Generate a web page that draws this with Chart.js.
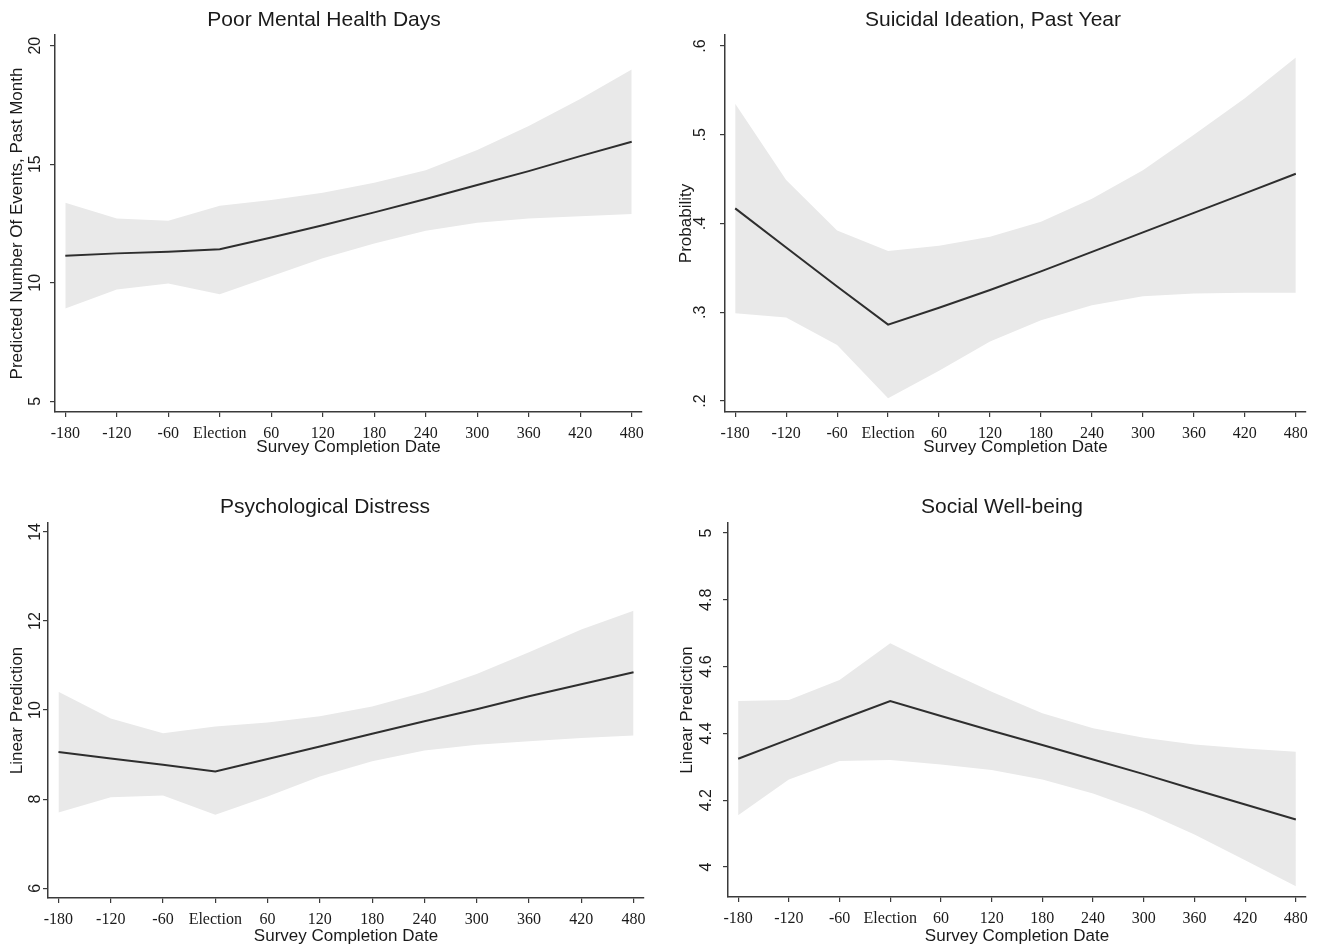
<!DOCTYPE html>
<html>
<head>
<meta charset="utf-8">
<script src="https://cdn.jsdelivr.net/npm/chart.js@4"></script>
<style>
  body { margin: 0; background: #fff; }
  .panel { position: absolute; }
</style>
</head>
<body>
<div class="panel" style="left:0;top:0;width:660px;height:470px"><canvas id="c1"></canvas></div>
<div class="panel" style="left:660px;top:0;width:662px;height:470px"><canvas id="c2"></canvas></div>
<div class="panel" style="left:0;top:480px;width:660px;height:465px"><canvas id="c3"></canvas></div>
<div class="panel" style="left:660px;top:480px;width:662px;height:465px"><canvas id="c4"></canvas></div>
<script>
// days since election, one point per tick
var days = [-180, -120, -60, 0, 60, 120, 180, 240, 300, 360, 420, 480];
var dayLabels = ['-180', '-120', '-60', 'Election', '60', '120', '180', '240', '300', '360', '420', '480'];

// Poor Mental Health Days
var mhEst = [11.14, 11.24, 11.31, 11.41, 11.91, 12.43, 12.97, 13.53, 14.12, 14.71, 15.34, 15.95];
var mhLow = [8.92, 9.72, 9.97, 9.52, 10.28, 11.03, 11.66, 12.19, 12.53, 12.71, 12.81, 12.90];
var mhHigh = [13.38, 12.71, 12.62, 13.25, 13.49, 13.80, 14.22, 14.75, 15.60, 16.61, 17.75, 19.0];
var mhTicks = [5, 10, 15, 20];
var mhTickLabels = ['5', '10', '15', '20'];

// Suicidal Ideation, Past Year
var siEst = [0.417, 0.373, 0.329, 0.286, 0.305, 0.325, 0.346, 0.368, 0.390, 0.412, 0.434, 0.456];
var siLow = [0.299, 0.294, 0.263, 0.203, 0.234, 0.267, 0.291, 0.308, 0.318, 0.321, 0.322, 0.322];
var siHigh = [0.535, 0.449, 0.392, 0.369, 0.375, 0.385, 0.402, 0.428, 0.460, 0.500, 0.541, 0.587];
var siTicks = [0.2, 0.3, 0.4, 0.5, 0.6];
var siTickLabels = ['.2', '.3', '.4', '.5', '.6'];

// Psychological Distress
var pdEst = [9.06, 8.91, 8.77, 8.62, 8.90, 9.18, 9.47, 9.75, 10.02, 10.31, 10.58, 10.85];
var pdLow = [7.70, 8.04, 8.08, 7.65, 8.06, 8.51, 8.85, 9.09, 9.22, 9.30, 9.37, 9.43];
var pdHigh = [10.41, 9.81, 9.48, 9.63, 9.72, 9.86, 10.08, 10.40, 10.81, 11.30, 11.81, 12.23];
var pdTicks = [6, 8, 10, 12, 14];
var pdTickLabels = ['6', '8', '10', '12', '14'];

// Social Well-being
var swEst = [4.324, 4.382, 4.440, 4.497, 4.452, 4.408, 4.365, 4.322, 4.278, 4.232, 4.187, 4.142];
var swLow = [4.155, 4.262, 4.317, 4.320, 4.307, 4.290, 4.262, 4.220, 4.165, 4.097, 4.020, 3.942];
var swHigh = [4.497, 4.500, 4.560, 4.670, 4.595, 4.525, 4.460, 4.415, 4.387, 4.367, 4.355, 4.345];
var swTicks = [4, 4.2, 4.4, 4.6, 4.8, 5];
var swTickLabels = ['4', '4.2', '4.4', '4.6', '4.8', '5'];

var SANS = '"Liberation Sans", Arial, Helvetica, sans-serif';
var SERIF = '"Liberation Serif", "Times New Roman", serif';
var INK = '#1a1a1a';
var AXIS = '#3a3a3a';

Chart.defaults.color = INK;
Chart.defaults.font.family = SANS;

function pts(vals) {
  return days.map(function(d, i) { return { x: d, y: vals[i] }; });
}

// stata style y labels, turned on their side
function sideTicks(labels, gap) {
  return {
    id: 'sideTicks',
    afterDraw: function(chart) {
      var sc = chart.scales.y;
      var ctx = chart.ctx;
      ctx.save();
      ctx.font = '16px ' + SANS;
      ctx.fillStyle = INK;
      ctx.textAlign = 'center';
      ctx.textBaseline = 'middle';
      sc.ticks.forEach(function(t, i) {
        ctx.save();
        ctx.translate(chart.chartArea.left - gap, sc.getPixelForValue(t.value));
        ctx.rotate(-Math.PI / 2);
        ctx.fillText(labels[i], 0, 0);
        ctx.restore();
      });
      ctx.restore();
    }
  };
}

function panel(p) {
  var ctx = document.getElementById(p.id).getContext('2d');
  return new Chart(ctx, {
    type: 'line',
    data: {
      datasets: [
        { data: pts(p.est), borderColor: '#2e2e2e', borderWidth: 2, pointRadius: 0, fill: false },
        { data: pts(p.low), borderWidth: 0, pointRadius: 0, fill: false },
        { data: pts(p.high), borderWidth: 0, pointRadius: 0, backgroundColor: '#e9e9e9', fill: 1 }
      ]
    },
    options: {
      responsive: true,
      maintainAspectRatio: false,
      animation: false,
      events: [],
      layout: { padding: { left: p.padLeft, right: p.padRight, top: 0, bottom: 0 } },
      plugins: {
        legend: { display: false },
        tooltip: { enabled: false },
        title: {
          display: true,
          text: p.title,
          color: INK,
          font: { size: 21, weight: 'normal', family: SANS },
          padding: { top: p.titleTop, bottom: p.titleBottom }
        }
      },
      scales: {
        x: {
          type: 'linear',
          min: -192,
          max: 492,
          afterBuildTicks: function(sc) { sc.ticks = days.map(function(d) { return { value: d }; }); },
          afterFit: function(sc) { sc.height = p.xHeight; sc.paddingLeft = 0; sc.paddingRight = 0; },
          ticks: {
            autoSkip: false,
            maxRotation: 0,
            padding: 7,
            color: INK,
            font: { size: 16, family: SERIF },
            callback: function(v, i) { return dayLabels[i]; }
          },
          grid: { drawOnChartArea: false, drawTicks: true, tickLength: 5, color: AXIS, lineWidth: 1.2 },
          border: { display: true, color: AXIS, width: 1.5 },
          title: {
            display: true,
            text: 'Survey Completion Date',
            color: INK,
            font: { size: 17, family: SANS },
            padding: { top: 0, bottom: p.xTitleBottom }
          }
        },
        y: {
          type: 'linear',
          min: p.yMin,
          max: p.yMax,
          afterBuildTicks: function(sc) { sc.ticks = p.ticks.map(function(v) { return { value: v }; }); },
          afterFit: function(sc) { sc.width = p.yWidth; sc.paddingTop = 0; sc.paddingBottom = 0; },
          ticks: { display: false },
          grid: { drawOnChartArea: false, drawTicks: true, tickLength: 5, color: AXIS, lineWidth: 1.2 },
          border: { display: true, color: AXIS, width: 1.5 },
          title: {
            display: true,
            text: p.yTitle,
            color: INK,
            font: { size: 17, family: SANS },
            padding: { top: p.yTitlePad, bottom: 0 }
          }
        }
      }
    },
    plugins: [sideTicks(p.tickLabels, p.labelGap)]
  });
}

panel({
  id: 'c1', title: 'Poor Mental Health Days', yTitle: 'Predicted Number Of Events, Past Month',
  est: mhEst, low: mhLow, high: mhHigh, ticks: mhTicks, tickLabels: mhTickLabels,
  yMin: 4.55, yMax: 20.45, labelGap: 19,
  padLeft: 6, padRight: 18, yWidth: 49, yTitlePad: 0.8,
  titleTop: 8, titleBottom: 1.8, xHeight: 58, xTitleBottom: 12.8
});

panel({
  id: 'c2', title: 'Suicidal Ideation, Past Year', yTitle: 'Probability',
  est: siEst, low: siLow, high: siHigh, ticks: siTicks, tickLabels: siTickLabels,
  yMin: 0.1876, yMax: 0.6124, labelGap: 24,
  padLeft: 20, padRight: 16, yWidth: 45, yTitlePad: -4.2,
  titleTop: 8, titleBottom: 1.8, xHeight: 58, xTitleBottom: 12.8
});

panel({
  id: 'c3', title: 'Psychological Distress', yTitle: 'Linear Prediction',
  est: pdEst, low: pdLow, high: pdHigh, ticks: pdTicks, tickLabels: pdTickLabels,
  yMin: 5.78, yMax: 14.2, labelGap: 12,
  padLeft: 6, padRight: 16, yWidth: 42, yTitlePad: 0.8,
  titleTop: 14.4, titleBottom: 3.4, xHeight: 47, xTitleBottom: -1.2
});

panel({
  id: 'c4', title: 'Social Well-being', yTitle: 'Linear Prediction',
  est: swEst, low: swLow, high: swHigh, ticks: swTicks, tickLabels: swTickLabels,
  yMin: 3.91, yMax: 5.03, labelGap: 21,
  padLeft: 38, padRight: 16, yWidth: 30, yTitlePad: -21.2,
  titleTop: 14.4, titleBottom: 3.4, xHeight: 48, xTitleBottom: -1.2
});
</script>
</body>
</html>
